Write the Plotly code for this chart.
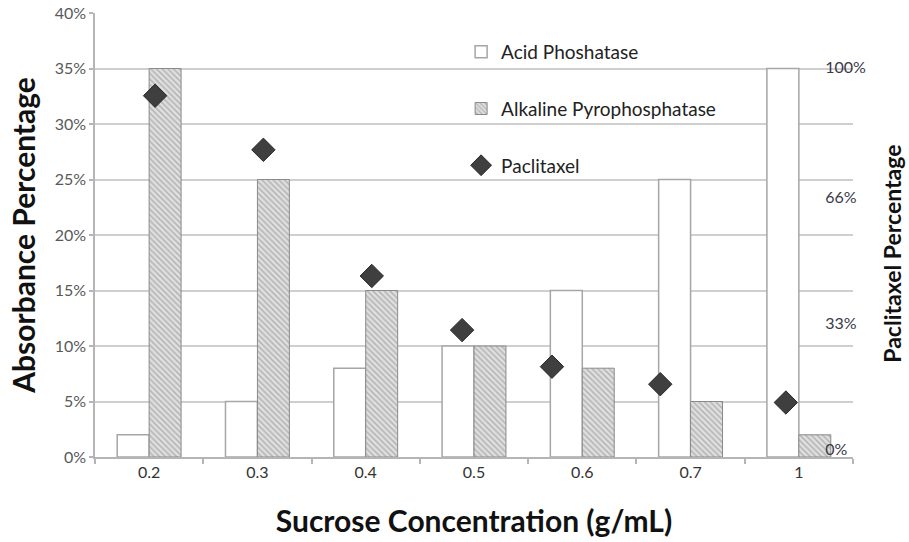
import plotly.graph_objects as go

# Sucrose gradient fractions
concentrations = ["0.2", "0.3", "0.4", "0.5", "0.6", "0.7", "1"]

# Enzyme marker absorbance (% of total)
acid_phosphatase = [2, 5, 8, 10, 15, 25, 35]
alkaline_pyrophosphatase = [35, 25, 15, 10, 8, 5, 2]

# Paclitaxel recovered in each fraction (% of total)
paclitaxel = [92.7, 78.5, 45.4, 31.2, 21.6, 17.0, 12.2]

# Small horizontal nudges (category units) for the paclitaxel markers
marker_nudge = [0.055, 0.055, 0.056, -0.11, -0.28, -0.28, -0.12]

left_ticks = [0, 5, 10, 15, 20, 25, 30, 35, 40]
right_ticks = [0, 33, 66, 100]

FONT = "Lato"
GRID = "#cfcfcf"

fig = go.Figure()

fig.add_trace(go.Bar(
    x=concentrations, y=acid_phosphatase, name="Acid Phoshatase",
    marker=dict(color="white", line=dict(color="#a6a6a6", width=1.5)),
    legendgroup="a",
))
fig.add_trace(go.Bar(
    x=concentrations, y=alkaline_pyrophosphatase, name="Alkaline Pyrophosphatase",
    marker=dict(
        color="#dedede",
        line=dict(color="#8a8a8a", width=1),
        pattern=dict(shape="\\", fgcolor="#8a8a8a", bgcolor="#e0e0e0",
                     size=4, solidity=0.4, fillmode="overlay"),
    ),
    legendgroup="b",
))

pos = [i + d for i, d in enumerate(marker_nudge)]
fig.add_trace(go.Scatter(
    x=pos, y=paclitaxel, name="Paclitaxel", mode="markers",
    xaxis="x2", yaxis="y2",
    marker=dict(symbol="diamond", size=18, color="#3f3f3f",
                line=dict(color="#2a2a2a", width=1)),
    legendgroup="c",
))

fig.update_layout(
    width=909, height=542,
    margin=dict(l=95, r=56, t=13, b=85),
    paper_bgcolor="white", plot_bgcolor="white",
    font=dict(family=FONT, size=15, color="#404040"),
    barmode="group", bargap=0.41, bargroupgap=0,
    showlegend=True,
    legend=dict(
        x=0.483, y=0.955, xanchor="left", yanchor="top",
        bgcolor="rgba(0,0,0,0)", tracegroupgap=29,
        font=dict(family=FONT, size=19, color="#222222"),
    ),
    xaxis=dict(
        type="category", range=[-0.5, 6.5], automargin=False,
        showline=True, linecolor="#b5b5b5", linewidth=1.5,
        ticks="outside", tickson="boundaries", ticklen=5,
        tickcolor="#b5b5b5", tickwidth=1.5,
        showgrid=False, zeroline=False,
        tickfont=dict(family=FONT, size=16, color="#333333"),
        title=dict(text="<b>Sucrose Concentration (g/mL)</b>",
                   font=dict(family=FONT, size=30, color="#111111"),
                   standoff=31),
    ),
    xaxis2=dict(
        overlaying="x", range=[-0.5, 6.5], visible=False,
    ),
    yaxis=dict(
        range=[0, 40], tickvals=left_ticks,
        ticktext=[f"{v}%" for v in left_ticks],
        automargin=False,
        showgrid=True, gridcolor=GRID, gridwidth=1.5,
        showline=True, linecolor="#b5b5b5", linewidth=1.5,
        ticks="outside", ticklen=4, tickcolor="#b5b5b5", tickwidth=1.5,
        zeroline=False,
        tickfont=dict(family=FONT, size=16, color="#595959"),
        title=dict(text="<b>Absorbance Percentage</b>",
                   font=dict(family=FONT, size=30, color="#111111"),
                   standoff=10),
    ),
    yaxis2=dict(
        overlaying="y", side="right", anchor="free", position=0.962,
        range=[-2.1, 114.4], tickvals=right_ticks,
        ticktext=[f"{v}%" for v in right_ticks],
        automargin=False,
        showgrid=False, showline=False, zeroline=False, ticks="",
        tickfont=dict(family=FONT, size=16, color="#3a3a4a"),
    ),
    annotations=[dict(
        text="<b>Paclitaxel Percentage</b>", textangle=-90,
        xref="paper", yref="paper", x=1.0515, y=0.458,
        xanchor="center", yanchor="middle", showarrow=False,
        font=dict(family=FONT, size=23, color="#111111"),
    )],
)

fig.write_html("out.html")
